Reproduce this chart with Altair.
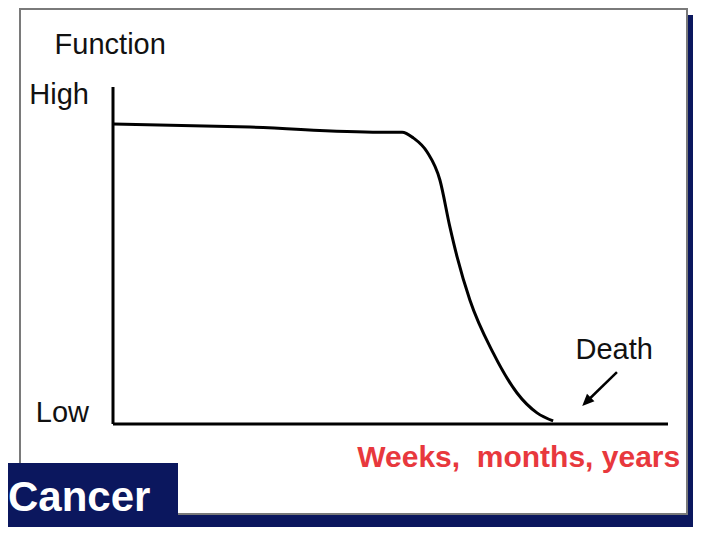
import altair as alt
import pandas as pd

# Curve: time (0-100 along x axis) vs function (0 = Low, 100 = High)
curve_t = [0, 24.7, 48.1, 52.1, 54.1, 56.6, 58.9, 60.7, 62.0, 64.3, 68.5, 72.8, 76.4, 79.3]
curve_f = [89.0, 88.1, 86.6, 86.6, 84.9, 80.7, 72.4, 58.5, 49.6, 36.8, 21.1, 9.2, 3.3, 0.9]

axis_label_text = ["High", "Low"]
axis_label_f = [97.6, 3.3]

title_text = "Function"
x_label_text = "Weeks,\u00a0 months, years"
death_text = "Death"
badge_text = "Cancer"

# arrow (tail -> head) in data units
arrow_t = [90.8, 85.5]
arrow_f = [15.4, 6.9]

NAVY = "#0b175e"
RED = "#e8383d"
FONT = "Liberation Sans, Arial"

W, H = 685, 519

xs = alt.Scale(domain=[0, 100], range=[105, 660])
ys = alt.Scale(domain=[0, 100], range=[416, 79])

one = pd.DataFrame({"a": [0]})
curve_df = pd.DataFrame({"t": curve_t, "f": curve_f})
lab_df = pd.DataFrame({"t": [0] * len(axis_label_text), "f": axis_label_f, "txt": axis_label_text})

# decoration: shadow, frame
shadow_right = alt.Chart(one).mark_rect(color=NAVY).encode(
    x=alt.value(680), x2=alt.value(W), y=alt.value(7), y2=alt.value(H))
shadow_bottom = alt.Chart(one).mark_rect(color=NAVY).encode(
    x=alt.value(20), x2=alt.value(W), y=alt.value(506), y2=alt.value(H))
frame = alt.Chart(one).mark_rect(fill="white", stroke="#7a7a7a", strokeWidth=2).encode(
    x=alt.value(12), x2=alt.value(679), y=alt.value(1), y2=alt.value(506))

# axes
yaxis = alt.Chart(pd.DataFrame({"t": [0], "f": [0], "f2": [100]})).mark_rule(
    color="black", strokeWidth=3).encode(
    x=alt.X("t:Q", scale=xs, axis=None),
    y=alt.Y("f:Q", scale=ys, axis=None), y2="f2:Q")
xaxis = alt.Chart(pd.DataFrame({"t": [0], "t2": [100], "f": [0]})).mark_rule(
    color="black", strokeWidth=3).encode(
    x=alt.X("t:Q", scale=xs, axis=None), x2="t2:Q",
    y=alt.Y("f:Q", scale=ys, axis=None))

curve = alt.Chart(curve_df).mark_line(color="black", strokeWidth=3, interpolate="monotone").encode(
    x=alt.X("t:Q", scale=xs, axis=None),
    y=alt.Y("f:Q", scale=ys, axis=None))

ylabels = alt.Chart(lab_df).mark_text(
    font=FONT, fontSize=29, align="right", baseline="middle", dx=-24, color="#111").encode(
    x=alt.X("t:Q", scale=xs, axis=None),
    y=alt.Y("f:Q", scale=ys, axis=None), text="txt:N")

title = alt.Chart(pd.DataFrame({"t": [-0.5], "f": [112.5], "txt": [title_text]})).mark_text(
    font=FONT, fontSize=29, align="center", baseline="middle", color="#111").encode(
    x=alt.X("t:Q", scale=xs, axis=None),
    y=alt.Y("f:Q", scale=ys, axis=None), text="txt:N")

xlabel = alt.Chart(pd.DataFrame({"t": [102.2], "f": [-10.1], "txt": [x_label_text]})).mark_text(
    font=FONT, fontSize=30, fontWeight="bold", align="right", baseline="middle", color=RED).encode(
    x=alt.X("t:Q", scale=xs, axis=None),
    y=alt.Y("f:Q", scale=ys, axis=None), text="txt:N")

death = alt.Chart(pd.DataFrame({"t": [90.3], "f": [22.0], "txt": [death_text]})).mark_text(
    font=FONT, fontSize=29, align="center", baseline="middle", color="#111").encode(
    x=alt.X("t:Q", scale=xs, axis=None),
    y=alt.Y("f:Q", scale=ys, axis=None), text="txt:N")

arrow_line = alt.Chart(pd.DataFrame({"t": [arrow_t[0]], "t2": [arrow_t[1]],
                                     "f": [arrow_f[0]], "f2": [arrow_f[1]]})).mark_rule(
    color="black", strokeWidth=2.5).encode(
    x=alt.X("t:Q", scale=xs, axis=None), x2="t2:Q",
    y=alt.Y("f:Q", scale=ys, axis=None), y2="f2:Q")
arrow_head = alt.Chart(pd.DataFrame({"t": [arrow_t[1]], "f": [arrow_f[1]]})).mark_point(
    shape="M0,-1L0.7,0.6L-0.7,0.6Z", filled=True, color="black", opacity=1,
    size=225, angle=225).encode(
    x=alt.X("t:Q", scale=xs, axis=None),
    y=alt.Y("f:Q", scale=ys, axis=None))

badge = alt.Chart(one).mark_rect(color=NAVY).encode(
    x=alt.value(0), x2=alt.value(170), y=alt.value(455), y2=alt.value(H))
badge_txt = alt.Chart(pd.DataFrame({"txt": [badge_text]})).mark_text(
    font=FONT, fontSize=42, fontWeight="bold", align="left", baseline="alphabetic",
    color="white").encode(x=alt.value(0), y=alt.value(503), text="txt:N")

chart = alt.layer(
    shadow_right, shadow_bottom, frame, yaxis, xaxis, curve, ylabels, title,
    xlabel, death, arrow_line, arrow_head, badge, badge_txt
).properties(
    width=W, height=H, padding=0, autosize=alt.AutoSizeParams(type="none"),
    background="white"
).configure_view(stroke=None)

chart.save("out.html", embed_options={"renderer": "svg", "actions": False})
